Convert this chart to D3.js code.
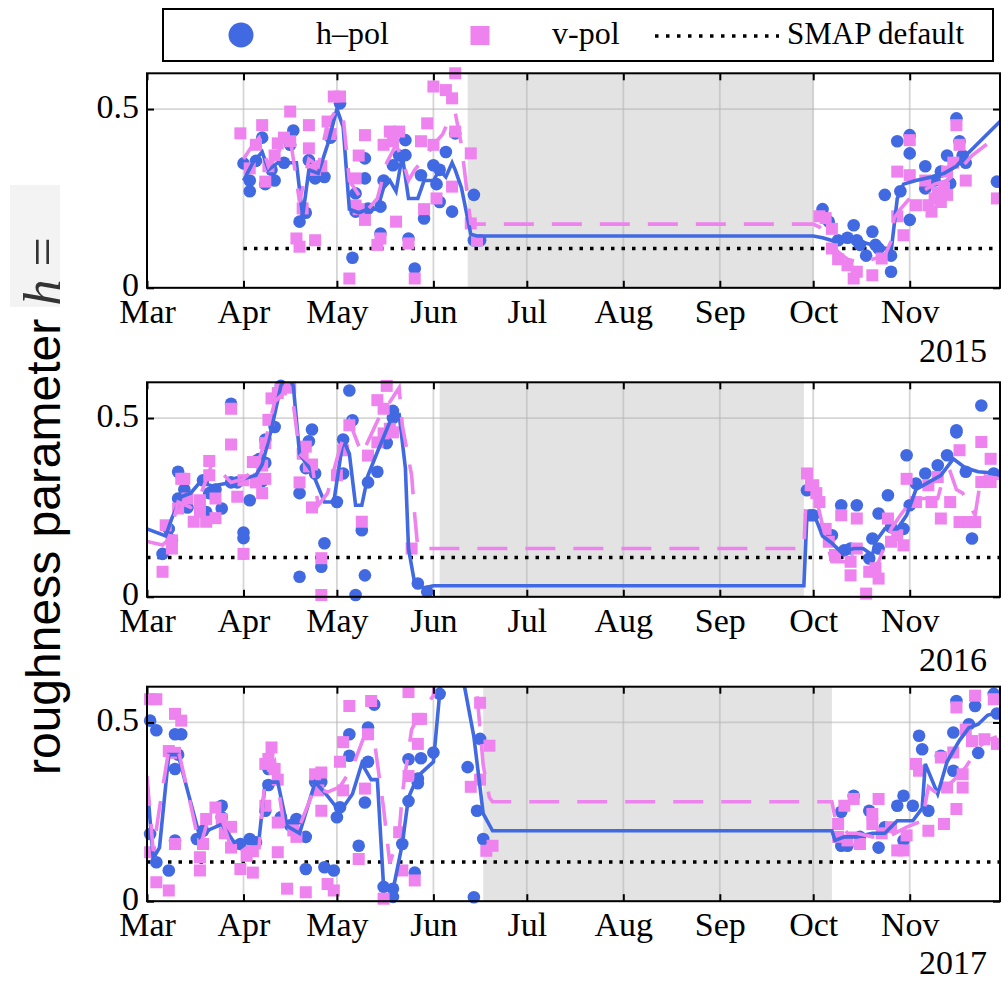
<!DOCTYPE html>
<html><head><meta charset="utf-8">
<script src="https://cdn.jsdelivr.net/npm/d3@7"></script>
<style>body{margin:0;background:#fff} svg{display:block}</style>
</head><body>
<svg id="c" width="1001" height="981"></svg>
<script>
// ---------- data ----------
const months = ["03-01","04-01","05-01","06-01","07-01","08-01","09-01","10-01","11-01"];
const yTicks = [0, 0.5];
const years = [2015, 2016, 2017];
const smapDefault = 0.11;
const smapStart = ["04-01","03-01","03-01"];
const gap2015 = ["06-12","10-01"];
const gap2016 = ["06-03","09-28"];
const gap2017 = ["06-17","10-07"];

const h2015 = [["04-01",0.348],["04-03",0.30],["04-03",0.27],["04-05",0.355],["04-07",0.42],["04-08",0.29],["04-10",0.33],["04-11",0.30],["04-14",0.35],["04-16",0.40],["04-17",0.44],["04-19",0.185],["04-21",0.21],["04-22",0.357],["04-24",0.306],["04-27",0.31],["04-29",0.42],["05-02",0.516],["05-06",0.084],["05-07",0.264],["05-07",0.213],["05-10",0.362],["05-10",0.306],["05-11",0.222],["05-15",0.227],["05-15",0.152],["05-16",0.30],["05-19",0.343],["05-21",0.37],["05-23",0.371],["05-23",0.413],["05-24",0.138],["05-26",0.054],["05-28",0.315],["05-29",0.194],["06-01",0.343],["06-02",0.29],["06-03",0.24],["06-03",0.33],["06-05",0.38],["06-07",0.213],["06-08",0.432],["06-14",0.26],["06-14",0.133],["06-16",0.133],
["10-04",0.22],["10-06",0.185],["10-09",0.133],["10-12",0.14],["10-14",0.175],["10-15",0.133],["10-16",0.12],["10-18",0.09],["10-20",0.157],["10-21",0.12],["10-22",0.11],["10-24",0.26],["10-26",0.045],["10-26",0.09],["10-28",0.41],["10-29",0.27],["11-01",0.427],["11-01",0.376],["11-01",0.19],["11-06",0.34],["11-06",0.278],["11-09",0.30],["11-11",0.325],["11-13",0.37],["11-14",0.292],["11-16",0.474],["11-17",0.41],["11-18",0.37],["11-19",0.35],["11-29",0.297]];
const v2015 = [["03-31",0.432],["04-03",0.334],["04-05",0.40],["04-07",0.455],["04-08",0.297],["04-09",0.34],["04-11",0.37],["04-12",0.404],["04-14",0.42],["04-16",0.493],["04-16",0.41],["04-18",0.138],["04-19",0.115],["04-20",0.222],["04-22",0.39],["04-22",0.455],["04-24",0.133],["04-24",0.33],["04-26",0.34],["04-28",0.465],["04-29",0.43],["04-30",0.535],["05-02",0.535],["05-05",0.026],["05-07",0.306],["05-07",0.23],["05-08",0.37],["05-08",0.22],["05-10",0.427],["05-10",0.19],["05-14",0.12],["05-15",0.138],["05-16",0.40],["05-18",0.437],["05-19",0.41],["05-20",0.185],["05-21",0.437],["05-24",0.124],["05-26",0.026],["05-28",0.41],["05-29",0.22],["05-30",0.46],["06-01",0.40],["06-01",0.563],["06-02",0.25],["06-05",0.553],["06-07",0.53],["06-07",0.283],["06-08",0.60],["06-08",0.437],["06-13",0.376],["06-13",0.18],["06-15",0.133],
["10-03",0.20],["10-05",0.195],["10-07",0.165],["10-07",0.11],["10-09",0.08],["10-12",0.063],["10-14",0.026],["10-15",0.045],["10-20",0.035],["10-23",0.082],["10-28",0.20],["10-28",0.325],["10-30",0.147],["11-01",0.315],["11-01",0.413],["11-03",0.231],["11-06",0.30],["11-07",0.231],["11-08",0.213],["11-09",0.25],["11-10",0.265],["11-11",0.24],["11-12",0.28],["11-13",0.26],["11-13",0.325],["11-15",0.35],["11-16",0.455],["11-17",0.40],["11-19",0.30],["11-29",0.25]];
const hLine2015 = [["04-01",0.30],["04-04",0.35],["04-07",0.38],["04-09",0.33],["04-12",0.35],["04-15",0.35],["04-18",0.35],["04-20",0.20],["04-22",0.33],["04-25",0.32],["04-28",0.40],["05-01",0.50],["05-03",0.45],["05-05",0.22],["05-08",0.21],["05-11",0.22],["05-14",0.22],["05-16",0.28],["05-18",0.30],["05-20",0.27],["05-22",0.37],["05-24",0.25],["05-27",0.25],["05-29",0.30],["06-01",0.30],["06-03",0.33],["06-05",0.31],["06-07",0.35],["06-08",0.33],["06-10",0.28],["06-13",0.15],["06-15",0.145],["10-01",0.145],["10-04",0.14],["10-08",0.13],["10-12",0.13],["10-16",0.13],["10-20",0.12],["10-24",0.11],["10-26",0.10],["10-28",0.25],["10-30",0.29],["11-03",0.30],["11-08",0.31],["11-12",0.32],["11-16",0.34],["11-19",0.37],["11-30",0.465]];
const vLine2015 = [["04-01",0.36],["04-04",0.40],["04-06",0.42],["04-09",0.34],["04-12",0.38],["04-16",0.42],["04-19",0.24],["04-22",0.36],["04-25",0.34],["04-28",0.46],["05-01",0.50],["05-03",0.48],["05-05",0.30],["05-08",0.26],["05-11",0.22],["05-14",0.25],["05-17",0.35],["05-20",0.40],["05-22",0.36],["05-24",0.30],["05-26",0.33],["05-29",0.36],["06-01",0.40],["06-04",0.43],["06-06",0.47],["06-08",0.49],["06-10",0.40],["06-13",0.18],["06-15",0.178],["10-01",0.178],["10-03",0.17],["10-06",0.13],["10-09",0.10],["10-12",0.08],["10-16",0.07],["10-20",0.08],["10-24",0.09],["10-26",0.13],["10-27",0.195],["10-29",0.22],["11-01",0.25],["11-05",0.27],["11-09",0.29],["11-13",0.30],["11-17",0.33],["11-21",0.37],["11-27",0.41]];

const h2016 = [["03-06",0.12],["03-08",0.19],["03-09",0.158],["03-11",0.35],["03-11",0.275],["03-13",0.30],["03-14",0.25],["03-19",0.326],["03-20",0.237],["03-21",0.29],["03-23",0.30],["03-25",0.247],["03-28",0.54],["03-28",0.32],["03-30",0.32],["04-01",0.18],["04-01",0.164],["04-03",0.27],["04-05",0.38],["04-06",0.385],["04-07",0.324],["04-08",0.375],["04-08",0.44],["04-11",0.475],["04-13",0.59],["04-19",0.29],["04-19",0.056],["04-21",0.36],["04-22",0.435],["04-23",0.468],["04-24",0.345],["04-26",0.084],["04-27",0.15],["05-01",0.265],["05-03",0.44],["05-03",0.345],["05-05",0.577],["05-06",0.494],["05-07",0.005],["05-09",0.186],["05-10",0.06],["05-11",0.32],["05-14",0.35],["05-17",0.43],["05-19",0.50],["05-19",0.52],["05-27",0.037],["05-30",0.014],
["09-29",0.298],["09-30",0.228],["10-01",0.228],["10-07",0.172],["10-10",0.256],["10-11",0.13],["10-13",0.135],["10-15",0.256],["10-19",0.107],["10-20",0.163],["10-22",0.233],["10-22",0.135],["10-25",0.284],["10-26",0.195],["10-30",0.19],["10-31",0.396],["11-01",0.256],["11-03",0.317],["11-06",0.345],["11-10",0.368],["11-13",0.396],["11-16",0.466],["11-16",0.46],["11-19",0.35],["11-21",0.163],["11-24",0.535],["11-28",0.345]];
const v2016 = [["03-06",0.07],["03-07",0.20],["03-09",0.135],["03-09",0.158],["03-11",0.247],["03-12",0.33],["03-13",0.33],["03-14",0.275],["03-16",0.21],["03-18",0.237],["03-18",0.27],["03-20",0.21],["03-21",0.34],["03-21",0.38],["03-23",0.275],["03-23",0.22],["03-28",0.526],["03-28",0.426],["03-30",0.28],["04-01",0.12],["04-01",0.326],["04-04",0.377],["04-05",0.32],["04-06",0.33],["04-07",0.367],["04-07",0.29],["04-08",0.33],["04-08",0.43],["04-09",0.495],["04-10",0.555],["04-12",0.57],["04-13",0.58],["04-16",0.585],["04-19",0.32],["04-20",0.40],["04-21",0.42],["04-22",0.365],["04-23",0.37],["04-23",0.25],["04-26",0.108],["04-26",0.005],["05-01",0.34],["05-03",0.41],["05-05",0.48],["05-09",0.21],["05-11",0.395],["05-14",0.432],["05-14",0.55],["05-16",0.457],["05-16",0.526],["05-17",0.59],["05-18",0.47],["05-19",0.46],["05-25",0.135],
["09-29",0.345],["10-01",0.312],["10-02",0.29],["10-03",0.265],["10-05",0.19],["10-06",0.154],["10-08",0.117],["10-10",0.228],["10-13",0.098],["10-13",0.06],["10-15",0.219],["10-15",0.135],["10-18",0.009],["10-19",0.07],["10-21",0.08],["10-22",0.051],["10-25",0.219],["10-26",0.154],["10-28",0.172],["10-30",0.144],["10-31",0.33],["11-03",0.265],["11-07",0.312],["11-08",0.265],["11-10",0.335],["11-11",0.219],["11-14",0.265],["11-17",0.41],["11-17",0.209],["11-20",0.209],["11-22",0.209],["11-24",0.433],["11-24",0.321],["11-27",0.386],["11-27",0.321]];
const hLine2016 = [["03-01",0.19],["03-07",0.17],["03-09",0.22],["03-12",0.28],["03-15",0.29],["03-18",0.32],["03-22",0.31],["03-28",0.32],["04-01",0.33],["04-05",0.34],["04-07",0.37],["04-10",0.47],["04-13",0.59],["04-15",0.62],["04-17",0.59],["04-19",0.40],["04-23",0.35],["04-27",0.265],["04-30",0.265],["05-03",0.44],["05-05",0.40],["05-07",0.256],["05-09",0.256],["05-11",0.34],["05-14",0.405],["05-17",0.468],["05-19",0.51],["05-21",0.51],["05-23",0.36],["05-24",0.135],["05-26",0.037],["05-29",0.025],["06-01",0.031],["09-28",0.031],["09-29",0.23],["10-01",0.237],["10-04",0.17],["10-07",0.15],["10-10",0.125],["10-14",0.135],["10-17",0.135],["10-20",0.117],["10-21",0.154],["10-24",0.19],["10-28",0.19],["10-31",0.228],["11-03",0.30],["11-07",0.32],["11-11",0.34],["11-15",0.386],["11-19",0.36],["11-23",0.35],["11-30",0.345]];
const vLine2016 = [["03-01",0.155],["03-06",0.145],["03-08",0.16],["03-11",0.265],["03-15",0.25],["03-18",0.28],["03-22",0.375],["03-28",0.32],["04-01",0.33],["04-05",0.36],["04-08",0.435],["04-11",0.545],["04-15",0.58],["04-17",0.54],["04-19",0.40],["04-23",0.37],["04-25",0.256],["04-28",0.29],["05-02",0.417],["05-05",0.49],["05-07",0.445],["05-09",0.40],["05-11",0.435],["05-15",0.51],["05-18",0.545],["05-21",0.585],["05-22",0.48],["05-25",0.34],["05-26",0.228],["05-27",0.135],["06-01",0.135],["09-28",0.135],["09-29",0.34],["10-01",0.312],["10-04",0.20],["10-07",0.098],["10-11",0.098],["10-15",0.098],["10-19",0.07],["10-22",0.098],["10-26",0.19],["10-29",0.228],["11-02",0.275],["11-06",0.275],["11-10",0.275],["11-12",0.34],["11-14",0.35],["11-16",0.30],["11-18",0.29],["11-20",0.26],["11-22",0.228],["11-24",0.34],["11-30",0.33]];

const h2017 = [["03-02",0.505],["03-04",0.478],["03-02",0.188],["03-04",0.109],["03-08",0.086],["03-10",0.17],["03-10",0.37],["03-11",0.41],["03-12",0.467],["03-10",0.467],["03-17",0.174],["03-19",0.197],["03-25",0.267],["03-25",0.235],["03-31",0.16],["04-03",0.174],["04-05",0.165],["04-08",0.253],["04-09",0.325],["04-09",0.37],["04-13",0.235],["04-16",0.212],["04-18",0.23],["04-21",0.09],["04-21",0.18],["04-24",0.334],["04-26",0.334],["04-27",0.095],["04-30",0.086],["05-01",0.235],["05-02",0.263],["05-05",0.467],["05-05",0.407],["05-08",0.155],["05-10",0.276],["05-11",0.39],["05-11",0.486],["05-13",0.55],["05-16",0.04],["05-19",0.035],["05-19",0.012],["05-22",0.16],["05-24",0.28],["05-24",0.397],["05-26",0.08],["05-27",0.343],["05-27",0.33],["05-28",0.40],["06-01",0.416],["06-03",0.58],["06-12",0.375],["06-14",0.011],["06-15",0.253],["06-16",0.454],["06-17",0.174],
["10-10",0.25],["10-14",0.295],["10-10",0.155],["10-12",0.155],["10-16",0.18],["10-19",0.253],["10-22",0.15],["10-24",0.207],["10-28",0.267],["10-30",0.295],["10-30",0.17],["11-02",0.267],["11-04",0.463],["11-05",0.425],["11-07",0.253],["11-11",0.407],["11-15",0.472],["11-15",0.365],["11-16",0.56],["11-20",0.495],["11-22",0.546],["11-23",0.415],["11-28",0.58],["11-29",0.525]];
const v2017 = [["03-02",0.565],["03-04",0.565],["03-02",0.137],["03-04",0.053],["03-08",0.03],["03-10",0.16],["03-08",0.42],["03-10",0.524],["03-12",0.505],["03-10",0.415],["03-18",0.123],["03-18",0.086],["03-19",0.16],["03-20",0.23],["03-23",0.262],["03-25",0.23],["03-26",0.19],["03-28",0.208],["03-28",0.15],["03-31",0.09],["04-02",0.127],["04-04",0.08],["04-04",0.14],["04-08",0.267],["04-08",0.384],["04-10",0.43],["04-09",0.398],["04-11",0.37],["04-12",0.34],["04-12",0.137],["04-12",0.22],["04-15",0.035],["04-17",0.198],["04-18",0.18],["04-21",0.025],["04-24",0.355],["04-26",0.36],["04-25",0.31],["04-26",0.253],["04-28",0.048],["04-30",0.03],["05-02",0.39],["05-03",0.445],["05-03",0.31],["05-05",0.546],["05-08",0.118],["05-10",0.315],["05-11",0.467],["05-12",0.56],["05-16",0.007],["05-21",0.193],["05-22",0.086],["05-24",0.35],["05-24",0.585],["05-26",0.058],["05-27",0.51],["05-27",0.44],["05-28",0.51],["06-13",0.32],["06-16",0.34],["06-16",0.555],["06-19",0.435],["06-18",0.141],["06-20",0.155],
["10-09",0.216],["10-11",0.267],["10-14",0.286],["10-09",0.18],["10-12",0.17],["10-16",0.16],["10-20",0.244],["10-20",0.216],["10-22",0.286],["10-23",0.19],["10-26",0.207],["10-28",0.142],["10-30",0.142],["10-31",0.184],["11-03",0.384],["11-04",0.365],["11-07",0.197],["11-11",0.402],["11-12",0.216],["11-13",0.318],["11-15",0.416],["11-16",0.542],["11-16",0.258],["11-18",0.318],["11-18",0.355],["11-19",0.48],["11-21",0.448],["11-22",0.575],["11-25",0.453],["11-28",0.565],["11-29",0.44]];
const hLine2017 = [["03-01",0.33],["03-03",0.12],["03-05",0.15],["03-08",0.41],["03-11",0.41],["03-14",0.31],["03-18",0.18],["03-21",0.20],["03-25",0.215],["03-29",0.165],["04-02",0.17],["04-06",0.175],["04-08",0.333],["04-12",0.333],["04-15",0.21],["04-19",0.19],["04-24",0.333],["04-27",0.305],["05-02",0.25],["05-06",0.30],["05-09",0.385],["05-12",0.34],["05-14",0.34],["05-16",0.04],["05-19",0.03],["05-22",0.16],["05-24",0.29],["05-27",0.35],["06-01",0.39],["06-03",0.58],["06-04",0.72],["06-10",0.72],["06-11",0.60],["06-14",0.46],["06-17",0.245],["06-20",0.197],["10-07",0.197],["10-08",0.17],["10-11",0.18],["10-15",0.18],["10-20",0.19],["10-24",0.19],["10-28",0.225],["11-02",0.225],["11-05",0.26],["11-06",0.384],["11-10",0.30],["11-13",0.39],["11-17",0.45],["11-20",0.485],["11-23",0.495],["11-26",0.52],["11-30",0.53]];
const vLine2017 = [["03-01",0.35],["03-03",0.14],["03-05",0.26],["03-08",0.425],["03-11",0.425],["03-14",0.31],["03-18",0.15],["03-21",0.24],["03-25",0.23],["03-29",0.123],["04-02",0.15],["04-06",0.15],["04-08",0.35],["04-11",0.39],["04-14",0.21],["04-19",0.21],["04-24",0.32],["04-28",0.305],["05-02",0.32],["05-06",0.375],["05-10",0.467],["05-13",0.45],["05-16",0.26],["05-18",0.105],["05-21",0.19],["05-22",0.30],["05-25",0.48],["05-27",0.515],["06-01",0.575],["06-02",0.72],["06-13",0.72],["06-15",0.58],["06-17",0.38],["06-19",0.29],["06-20",0.278],["10-07",0.278],["10-08",0.235],["10-12",0.19],["10-15",0.19],["10-20",0.18],["10-25",0.18],["10-31",0.207],["11-05",0.225],["11-07",0.32],["11-10",0.30],["11-15",0.337],["11-19",0.375],["11-23",0.43],["11-26",0.45],["11-29",0.46]];

// ---------- drawing ----------
const svg = d3.select("#c");
const BLUE = "#4169E1", PINK = "#EE82EE";
const X0 = 147, X1 = 1000, H = 214.5;
const tops = [73.3, 382.3, 686.7];
const panels = [
  {h:h2015, v:v2015, hl:hLine2015, vl:vLine2015, gap:gap2015},
  {h:h2016, v:v2016, hl:hLine2016, vl:vLine2016, gap:gap2016},
  {h:h2017, v:v2017, hl:hLine2017, vl:vLine2017, gap:gap2017}
];
const serif = "'Liberation Serif', 'Times New Roman', serif";

panels.forEach((p, i) => {
  const year = years[i];
  const top = tops[i], bot = top + H;
  const parse = s => d3.timeParse("%Y-%m-%d")(year + "-" + s);
  const x = d3.scaleTime().domain([parse("03-01"), parse("11-30")]).range([X0, X1]);
  const y = d3.scaleLinear().domain([0, 0.6]).range([bot, top]);
  const g = svg.append("g");

  g.append("rect").attr("x", X0).attr("y", top).attr("width", X1 - X0).attr("height", H).attr("fill", "#fff");
  g.append("rect").attr("x", x(parse(p.gap[0]))).attr("y", top)
    .attr("width", x(parse(p.gap[1])) - x(parse(p.gap[0]))).attr("height", H).attr("fill", "#e3e3e3");

  // grid
  g.selectAll(".vg").data(months).join("line")
    .attr("x1", d => x(parse(d))).attr("x2", d => x(parse(d)))
    .attr("y1", top).attr("y2", bot).attr("stroke", "#b5b5b5").attr("stroke-opacity", 0.55).attr("stroke-width", 1.8);
  g.selectAll(".hg").data(yTicks).join("line")
    .attr("x1", X0).attr("x2", X1).attr("y1", d => y(d)).attr("y2", d => y(d))
    .attr("stroke", "#b5b5b5").attr("stroke-opacity", 0.55).attr("stroke-width", 1.8);

  // SMAP default
  g.append("line").attr("x1", x(parse(smapStart[i]))).attr("x2", X1)
    .attr("y1", y(smapDefault)).attr("y2", y(smapDefault))
    .attr("stroke", "#000").attr("stroke-width", 3.5).attr("stroke-dasharray", "3.5,7");

  // markers
  g.selectAll(".hp").data(p.h).join("circle")
    .attr("cx", d => x(parse(d[0]))).attr("cy", d => y(d[1])).attr("r", 6.3).attr("fill", BLUE);
  g.selectAll(".vp").data(p.v).join("rect")
    .attr("x", d => x(parse(d[0])) - 6).attr("y", d => y(d[1]) - 6)
    .attr("width", 12).attr("height", 12).attr("fill", PINK);

  // lines (clipped)
  const cid = "clip" + i;
  svg.append("clipPath").attr("id", cid).append("rect")
    .attr("x", X0).attr("y", top).attr("width", X1 - X0).attr("height", H);
  const line = d3.line().x(d => x(parse(d[0]))).y(d => y(d[1]));
  g.append("path").datum(p.hl).attr("d", line).attr("fill", "none")
    .attr("stroke", BLUE).attr("stroke-width", 3.6).attr("clip-path", `url(#${cid})`);
  g.append("path").datum(p.vl).attr("d", line).attr("fill", "none")
    .attr("stroke", PINK).attr("stroke-width", 3.6).attr("stroke-dasharray", "30,18").attr("clip-path", `url(#${cid})`);

  // axes
  const fmt = d3.timeFormat("%b");
  const ax = g.append("g").attr("transform", `translate(0,${bot})`)
    .call(d3.axisBottom(x).tickValues(months.map(parse)).tickFormat(fmt).tickSizeInner(-7).tickSizeOuter(0).tickPadding(11));
  const axT = g.append("g").attr("transform", `translate(0,${top})`)
    .call(d3.axisTop(x).tickValues(months.map(parse)).tickFormat("").tickSizeInner(-7).tickSizeOuter(0));
  const ay = g.append("g").attr("transform", `translate(${X0},0)`)
    .call(d3.axisLeft(y).tickValues(yTicks).tickFormat(d => d === 0 ? "0" : "0.5").tickSizeInner(-7).tickSizeOuter(0).tickPadding(8));
  const ayR = g.append("g").attr("transform", `translate(${X1},0)`)
    .call(d3.axisRight(y).tickValues(yTicks).tickFormat("").tickSizeInner(-7).tickSizeOuter(0));
  [ax, axT, ay, ayR].forEach(a => {
    a.select(".domain").remove();
    a.selectAll("line").attr("stroke", "#000").attr("stroke-width", 2);
    a.selectAll("text").attr("font-family", serif).attr("font-size", 34).attr("fill", "#000");
  });
  ay.selectAll("text").attr("dy", "0.24em");

  g.append("rect").attr("x", X0).attr("y", top).attr("width", X1 - X0).attr("height", H)
    .attr("fill", "none").attr("stroke", "#000").attr("stroke-width", 2);

  g.append("text").attr("x", 987).attr("y", Math.min(bot + 74.5, 974)).attr("text-anchor", "end")
    .attr("font-family", serif).attr("font-size", 34).text(year);
});

// legend
const lg = svg.append("g");
lg.append("rect").attr("x", 163).attr("y", 9).attr("width", 830).attr("height", 52)
  .attr("fill", "#fff").attr("stroke", "#000").attr("stroke-width", 2);
lg.append("circle").attr("cx", 241).attr("cy", 35).attr("r", 12.5).attr("fill", BLUE);
lg.append("text").attr("x", 316).attr("y", 44).attr("font-family", serif).attr("font-size", 32).text("h–pol");
lg.append("rect").attr("x", 470.5).attr("y", 26).attr("width", 19).attr("height", 19).attr("fill", PINK);
lg.append("text").attr("x", 552).attr("y", 44).attr("font-family", serif).attr("font-size", 32).text("v-pol");
lg.append("line").attr("x1", 655).attr("x2", 779).attr("y1", 36).attr("y2", 36)
  .attr("stroke", "#000").attr("stroke-width", 3.5).attr("stroke-dasharray", "3.5,7.5");
lg.append("text").attr("x", 787).attr("y", 44).attr("font-family", serif).attr("font-size", 31).text("SMAP default");

// y label
svg.append("rect").attr("x", 10).attr("y", 185).attr("width", 50).attr("height", 122).attr("fill", "#f3f3f3");
const yl = svg.append("text").attr("transform", "translate(60,775) rotate(-90)")
  .attr("font-family", "'Liberation Sans', Arial, sans-serif").attr("font-size", 48).attr("fill", "#000");
yl.append("tspan").text("roughness parameter ");
yl.append("tspan").attr("font-family", serif).attr("font-style", "italic").attr("font-size", 52).attr("fill", "#333").text("h");
yl.append("tspan").attr("font-family", serif).attr("font-size", 52).attr("fill", "#333").text(" =");
</script></body></html>
